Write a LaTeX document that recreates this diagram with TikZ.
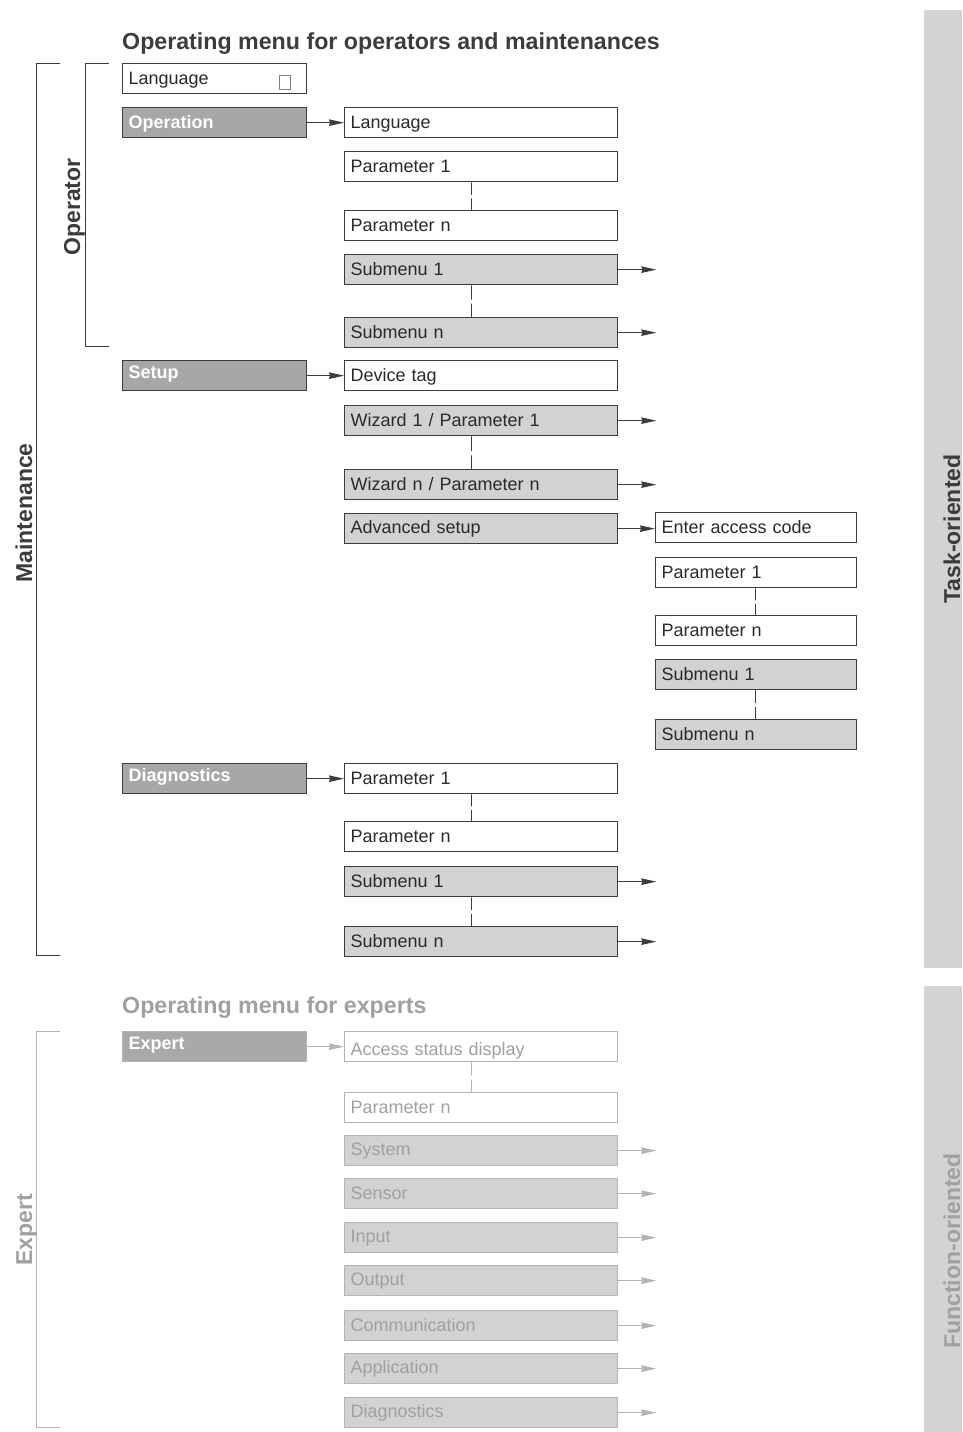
\documentclass[tikz,border=0pt]{standalone}
\usepackage{fontspec}
\setmainfont{Liberation Sans}
\usetikzlibrary{arrows.meta,calc}
\definecolor{bd}{HTML}{3C3C3C}
\definecolor{tx}{HTML}{2A2A2A}
\definecolor{dk}{HTML}{A6A7A9}
\definecolor{lt}{HTML}{D1D2D4}
\definecolor{side}{HTML}{D2D3D5}
\definecolor{gtx}{HTML}{A0A0A2}
\definecolor{gbd}{HTML}{B4B4B6}
\definecolor{gdk}{HTML}{A8A9AB}
\newcommand\vlinkx[4]{\draw[#4] ([xshift=#3]#1.south west) -- ($([xshift=#3]#1.south west)!0.45!([xshift=#3]#2.north west)$) ($([xshift=#3]#1.south west)!0.58!([xshift=#3]#2.north west)$) -- ([xshift=#3]#2.north west);}
\begin{document}
\begin{tikzpicture}[x=1pt,y=-1pt,
  base/.style={draw=bd, line width=1.3pt, minimum height=30pt, anchor=north west,
    text height=11.9pt, text depth=0pt, inner xsep=6pt, inner ysep=0pt, align=left,
    font=\fontsize{18}{20}\selectfont, text=tx},
  up/.style={text height=6.5pt},
  down/.style={text height=17.5pt},
  lw/.style={base, minimum width=184pt, text width=172pt},
  mw/.style={base, minimum width=273pt, text width=261pt},
  rw/.style={base, minimum width=201pt, text width=189pt},
  wf/.style={fill=white},
  df/.style={fill=dk, text=white, font=\fontsize{18}{20}\selectfont\bfseries},
  lf/.style={fill=lt},
  ew/.style={fill=white, draw=gbd, text=gtx},
  el/.style={fill=lt, draw=gbd, text=gtx},
  ed/.style={fill=gdk, draw=gbd, text=white, font=\fontsize{18}{20}\selectfont\bfseries},
  arr/.style={draw=bd, line width=1pt, -{Stealth[length=15pt,width=6.5pt,inset=1pt]}},
  garr/.style={draw=gbd, line width=1pt, -{Stealth[length=15pt,width=6.5pt,inset=1pt]}},
  conn/.style={draw=bd, line width=0.9pt},
  gconn/.style={draw=gbd, line width=0.9pt},
  brk/.style={draw=bd, line width=1pt},
  gbrk/.style={draw=gbd, line width=1pt},
  ttl/.style={anchor=base west, inner sep=0pt, font=\fontsize{23.2}{26}\selectfont\bfseries},
  vlab/.style={rotate=90, anchor=base, inner sep=0pt, font=\fontsize{23}{26}\selectfont\bfseries}
]
\useasboundingbox (0,0) rectangle (962,1432);
% side bars
\fill[side] (924,10) rectangle (962,968);
\fill[side] (924,986) rectangle (962,1432);
\node[vlab, text=bd] (task) at (960,529) {Task-oriented};
\node[vlab, text=gtx] (func) at (960,1251) {Function-oriented};
% titles
\node[ttl, text=bd] (t1) at (122,49) {Operating menu for operators and maintenances};
\node[ttl, text=gtx] (t2) at (122,1013) {Operating menu for experts};
% brackets
\draw[brk] (60,63) -- (36,63) -- (36,955) -- (60,955);
\draw[brk] (109,63) -- (85,63) -- (85,346) -- (109,346);
\draw[gbrk] (60,1031) -- (36,1031) -- (36,1427) -- (60,1427);
\node[vlab, text=bd] (lmaint) at (32,513) {Maintenance};
\node[vlab, text=bd] (loper) at (80,207) {Operator};
\node[vlab, text=gtx] (lexp) at (32,1230) {Expert};
% left column
\node[lw, wf] (lang0) at (122,63) {Language};
\node[draw=gray, line width=0.6pt, minimum width=11pt, minimum height=14pt, inner sep=0pt, anchor=north west] (sq) at (279,75) {};
\node[lw, df] (oper) at (122,107) {Operation};
\node[lw, df, up] (setup) at (122,360) {Setup};
\node[lw, df, up] (diag) at (122,763) {Diagnostics};
\node[lw, ed, up] (expert) at (122,1031) {Expert};
% middle column
\node[mw, wf] (mlang) at (344,107) {Language};
\node[mw, wf] (mp1) at (344,151) {Parameter 1};
\node[mw, wf] (mpn) at (344,210) {Parameter n};
\node[mw, lf] (ms1) at (344,254) {Submenu 1};
\node[mw, lf] (msn) at (344,317) {Submenu n};
\node[mw, wf] (mdev) at (344,360) {Device tag};
\node[mw, lf] (mw1) at (344,405) {Wizard 1 / Parameter 1};
\node[mw, lf] (mwn) at (344,469) {Wizard n / Parameter n};
\node[mw, lf, text height=9pt] (madv) at (344,513) {Advanced setup};
\node[mw, wf] (dp1) at (344,763) {Parameter 1};
\node[mw, wf] (dpn) at (344,821) {Parameter n};
\node[mw, lf] (ds1) at (344,866) {Submenu 1};
\node[mw, lf] (dsn) at (344,926) {Submenu n};
\node[mw, ew, down] (eacc) at (344,1031) {Access status display};
\node[mw, ew] (epn) at (344,1092) {Parameter n};
\node[mw, el, text height=9pt] (esys) at (344,1135) {System};
\node[mw, el] (esen) at (344,1178) {Sensor};
\node[mw, el, text height=9pt] (einp) at (344,1222) {Input};
\node[mw, el, text height=9pt] (eout) at (344,1265) {Output};
\node[mw, el] (ecom) at (344,1310) {Communication};
\node[mw, el, text height=9pt] (eapp) at (344,1353) {Application};
\node[mw, el, text height=9pt] (edia) at (344,1397) {Diagnostics};
% right column
\node[rw, wf] (racc) at (655,512) {Enter access code};
\node[rw, wf] (rp1) at (655,557) {Parameter 1};
\node[rw, wf] (rpn) at (655,615) {Parameter n};
\node[rw, lf] (rs1) at (655,659) {Submenu 1};
\node[rw, lf] (rsn) at (655,719) {Submenu n};
% arrows left -> middle
\draw[arr] (oper.east) -- (mlang.west);
\draw[arr] (setup.east) -- (mdev.west);
\draw[arr] (diag.east) -- (dp1.west);
\draw[garr] (expert.east) -- (eacc.west);
\draw[arr] (madv.east) -- (madv.east -| racc.west);
% arrows middle -> free ends
\foreach \n in {ms1,msn,mw1,mwn,ds1,dsn}{
  \coordinate (\n-end) at ($(\n.east)+(38,0)$);
  \draw[arr] (\n.east) -- (\n-end);
}
\foreach \n in {esys,esen,einp,eout,ecom,eapp,edia}{
  \coordinate (\n-end) at ($(\n.east)+(38,0)$);
  \draw[garr] (\n.east) -- (\n-end);
}
% vertical continuation links
\vlinkx{mp1}{mpn}{127.5pt}{conn}
\vlinkx{ms1}{msn}{127.5pt}{conn}
\vlinkx{mw1}{mwn}{127.5pt}{conn}
\vlinkx{dp1}{dpn}{127.5pt}{conn}
\vlinkx{ds1}{dsn}{127.5pt}{conn}
\vlinkx{eacc}{epn}{127.5pt}{gconn}
\vlinkx{rp1}{rpn}{100.5pt}{conn}
\vlinkx{rs1}{rsn}{100.5pt}{conn}
\end{tikzpicture}
\end{document}
